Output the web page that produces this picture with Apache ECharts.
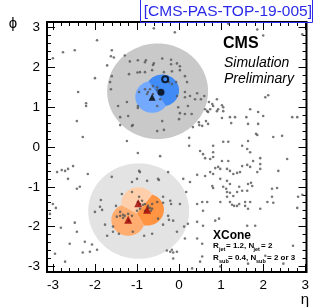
<!DOCTYPE html>
<html><head><meta charset="utf-8">
<script src="https://cdn.jsdelivr.net/npm/echarts@6/dist/echarts.min.js"></script>
<style>html,body{margin:0;padding:0;background:#fff}#c{width:314px;height:308px}</style>
</head><body><div id="c"></div>
<script>
// ---- data ----
const etaMin = -3.14, etaMax = 3.03, phiMin = -3.14, phiMax = 3.14;
const tickValues = [-3, -2, -1, 0, 1, 2, 3];

const fatJetEta = [-0.51, -0.96];
const fatJetPhi = [1.40, -1.61];
const fatJetR = 1.2;
const fatJetColor = ['#c9c9c9', '#e3e3e3'];

const subJetEta = [-0.64, -0.40, -0.97, -0.76, -1.21];
const subJetPhi = [1.26, 1.42, -1.41, -1.575, -1.83];
const subJetGroup = [0, 0, 1, 1, 1];
const subJetR = 0.4;
const subJetColor = ['#73a9ff', '#418bf6', '#ffcfab', '#ff9442', '#ffad70'];

const redTriEta = [-0.97, -0.76, -1.21];
const redTriPhi = [-1.41, -1.575, -1.83];
const blackTriEta = [-0.64], blackTriPhi = [1.25];
const blackDotEta = [-0.43], blackDotPhi = [1.375];
const openCircEta = [-0.33], openCircPhi = [1.70];

const particleEta = [
-1.95,-2.76,-2.48,-3.0,-2.0,-2.40,-0.60,-0.10,1.17,1.86,2.0,2.93,-1.60,-1.62,-1.55,-1.71,-1.29,-1.17,-0.98,-0.79,-0.60,-0.40,-0.19,0.02,-0.99,-0.64,-1.60,-0.81,-0.62,-0.19,-0.05,-0.81,-0.93,-1.19,-1.64,-1.62,-1.24,-1.45,-0.98,-0.98,-1.21,-1.12,-1.40,-0.40,0.0,0.14,0.19,-0.07,-0.17,0.02,0.26,0.38,0.52,0.43,0.14,-0.02,0.02,0.14,0.30,0.62,0.67,0.64,0.47,0.48,0.33,
-0.81,-0.69,-0.62,-0.52,-0.74,-0.76,-0.62,-0.52,-0.95,-0.36,-0.24,-0.05,-0.17,-0.45,-0.52,
-2.21,-2.21,-2.43,-2.29,-1.24,-1.40,-1.10,-0.52,-0.36,0.21,0.24,0.24,0.55,0.69,0.71,0.79,0.81,0.69,0.74,0.90,0.93,1.02,1.21,1.33,1.69,1.88,2.0,1.64,1.88,1.83,1.86,2.24,2.45,2.69,2.81,1.05,1.17,1.50,1.64,1.62,1.69,0.50,0.57,0.81,1.02,1.17,0.62,0.74,-0.45,-0.98,
-2.90,-2.79,-2.71,-2.64,-2.52,-2.64,-2.17,-2.43,-2.36,-1.60,-1.12,-1.0,-0.93,-0.95,-0.76,-0.50,-0.26,0.10,0.26,0.62,0.74,0.81,0.98,1.14,0.93,1.21,1.38,1.29,1.50,1.62,1.69,1.64,1.74,1.45,1.86,1.93,1.76,2.57,2.36,0.98,1.14,1.21,1.05,1.12,1.14,1.21,1.29,1.14,0.79,0.81,1.38,1.50,2.21,2.33,2.93,
0.90,1.05,1.05,2.05,2.12,1.02,1.24,1.60,0.81,0.81,1.93,0.86,1.93,1.43,1.62,1.71,2.21,2.83,
-3.0,-2.93,-3.07,-2.81,-2.60,-2.48,-2.43,-2.24,-2.07,-2.29,-1.95,-2.12,-2.71,-2.95,-2.0,-1.88,-1.76,-1.50,-1.48,-1.40,-1.29,-1.33,-1.57,-1.43,-1.71,-1.10,-0.83,-1.0,-0.93,-0.81,-0.74,-0.64,-0.52,-0.38,-0.21,-0.26,-0.38,-0.14,0.02,-0.05,-0.29,-0.21,-0.17,-0.14,-0.05,-0.14,0.14,0.21,0.43,0.55,0.67,0.31,0.50,0.86,0.98,1.21,1.43,1.57,1.62,1.81,2.10,2.24,2.71,2.81,2.48,1.64,0.98,
0.57,1.26,1.31,1.38,1.57,1.69,1.64,1.93,0.95,0.57,0.55,2.05,0.55,
-0.48,0.43,-1.86,-1.83,-1.36,-1.12,-0.95,-0.88,-0.98,-0.93,-0.86,-0.81,-0.74,-0.69,-0.64,-0.67,-0.38,-0.19,0.17,-1.40,-1.33,-1.21,-1.12,-1.19,-0.24,-0.50,-1.57,-0.64,0.12,0.43,0.43,
0.60,0.14
];
const particlePhi = [
2.68,2.38,2.43,2.23,1.73,1.38,2.98,2.88,3.1,2.95,2.8,2.83,2.43,2.28,2.25,2.05,2.3,2.15,2.18,2.18,2.1,2.22,2.19,2.03,1.87,1.93,1.78,2.13,2.06,2.08,2.1,1.88,1.88,1.83,1.63,1.45,1.13,1.03,1.03,0.98,0.78,0.53,0.75,0.65,0.7,1.78,1.63,1.63,1.9,1.93,1.28,1.2,1.2,1.35,1.25,1.0,0.85,0.83,0.83,0.95,0.9,0.65,0.62,0.55,0.5,
1.45,1.45,1.53,1.5,1.38,1.33,1.33,1.43,1.38,1.88,1.63,1.28,1.58,1.2,1.03,
1.1,1.03,0.65,0.25,0.15,0.55,0.55,0.4,0.43,1.03,0.23,0.03,0.53,0.58,1.13,1.08,1.03,0.88,0.95,0.9,0.95,1.05,0.75,0.75,0.95,0.88,0.78,0.58,0.58,0.33,0.3,0.25,0.28,0.75,0.75,0.13,0.13,0.03,0.15,-0.05,-0.13,-0.1,-0.18,-0.25,-0.35,-0.35,-0.28,-0.3,-0.23,-0.15,
-0.63,-0.58,-0.6,-0.55,-0.48,-0.8,-0.68,-1.05,-1.0,-0.75,-0.88,-0.8,-0.63,-0.6,-0.85,-0.8,-0.63,-0.8,-0.88,-0.73,-0.63,-0.68,-0.55,-0.55,-0.5,-0.6,-0.65,-0.68,-0.48,-0.45,-0.5,-0.93,-0.98,-0.63,-0.63,-0.43,-0.35,-0.3,-0.6,-0.8,-0.85,-0.93,-1.0,-1.05,-1.13,-1.15,-1.23,-1.25,-0.98,-1.03,-1.13,-1.1,-1.05,-1.03,-1.2,
1.2,1.0,0.9,1.25,1.3,0.73,0.6,0.75,0.03,-0.13,-0.28,-0.53,-0.55,-1.0,-1.1,-0.9,-1.25,-1.25,
-1.43,-1.53,-1.68,-2.03,-2.43,-1.9,-2.13,-2.38,-2.45,-2.65,-2.58,-2.63,-2.88,-2.68,-1.63,-1.5,-1.95,-1.48,-1.75,-1.73,-1.73,-1.78,-2.0,-2.18,-2.23,-2.13,-2.23,-1.6,-1.55,-1.6,-1.53,-1.43,-1.38,-1.4,-1.35,-1.73,-1.95,-1.85,-1.43,-2.13,-2.6,-2.63,-2.58,-2.65,-2.63,-2.8,-2.3,-1.93,-1.43,-1.38,-1.38,-3.05,-2.88,-1.85,-1.38,-1.38,-1.43,-1.38,-1.98,-1.98,-1.38,-1.4,-2.48,-1.53,-2.93,-2.93,-3.0,
-1.6,-1.45,-1.48,-1.48,-1.48,-1.38,-1.55,-1.55,-1.8,-1.98,-2.43,-2.73,-2.75,
-0.83,-0.7,-1.33,-1.58,-1.18,-1.13,-1.25,-1.35,-1.38,-1.43,-1.45,-1.43,-1.48,-1.53,-1.55,-1.6,-1.25,-1.43,-1.13,-1.63,-1.7,-1.68,-1.73,-1.85,-1.83,-1.8,-2.13,-2.18,-2.0,-1.88,-2.3,
1.28,1.38
];

// ---- geometry helpers (data space) ----
function clipHalf(poly, c, o) {
  const mx = (c[0] + o[0]) / 2, my = (c[1] + o[1]) / 2, dx = o[0] - c[0], dy = o[1] - c[1];
  const f = p => (p[0] - mx) * dx + (p[1] - my) * dy;
  const out = [];
  for (let i = 0; i < poly.length; i++) {
    const a = poly[i], b = poly[(i + 1) % poly.length], fa = f(a), fb = f(b);
    if (fa <= 0) out.push(a);
    if ((fa <= 0) !== (fb <= 0)) { const t = fa / (fa - fb); out.push([a[0] + t * (b[0] - a[0]), a[1] + t * (b[1] - a[1])]); }
  }
  return out;
}
function region(cx, cy, r, others) {
  let pts = [];
  for (let i = 0; i < 120; i++) { const a = 2 * Math.PI * i / 120; pts.push([cx + r * Math.cos(a), cy + r * Math.sin(a)]); }
  others.forEach(o => { pts = clipHalf(pts, [cx, cy], o); });
  return pts;
}

const fatData = fatJetEta.map((e, i) => [e, fatJetPhi[i], i]);
const subData = subJetEta.map((e, i) => [e, subJetPhi[i], i]);

function renderFat(params, api) {
  const i = api.value(2);
  const others = fatJetEta.map((e, j) => [e, fatJetPhi[j]]).filter((_, j) => j !== i);
  const pts = region(api.value(0), api.value(1), fatJetR, others).map(p => api.coord(p));
  return { type: 'polygon', shape: { points: pts }, style: { fill: fatJetColor[i] } };
}
function renderSub(params, api) {
  const i = api.value(2);
  const others = [];
  subJetEta.forEach((e, j) => { if (j !== i && subJetGroup[j] === subJetGroup[i]) others.push([e, subJetPhi[j]]); });
  const pts = region(api.value(0), api.value(1), subJetR, others).map(p => api.coord(p));
  return { type: 'polygon', shape: { points: pts }, style: { fill: subJetColor[i] } };
}

const minorVals = [];
for (let k = -16; k <= 16; k++) { const v = Math.round(k * 2) / 10; if (Math.abs(v - Math.round(v)) > 1e-6) minorVals.push(v); }

const FONT = 'Liberation Sans, Arial, Helvetica, sans-serif';
function axis(dim, pos, vals, len, labels) {
  const isX = dim === 'x';
  return {
    type: 'value', position: pos,
    min: isX ? etaMin : phiMin, max: isX ? etaMax : phiMax,
    axisLine: { show: false, onZero: false },
    splitLine: { show: false },
    axisTick: { show: true, inside: true, length: len, customValues: vals, lineStyle: { color: '#000', width: 1 } },
    axisLabel: labels ? { show: true, customValues: tickValues, color: '#000', fontSize: 13.5, fontFamily: FONT, margin: isX ? 6 : 7 } : { show: false }
  };
}

function txt(x, y, s, font, align) {
  return { type: 'text', x: x, y: y, z: 10, style: { text: s, fill: '#000', font: font, align: align || 'left', verticalAlign: 'middle' } };
}
const MAIN = 'bold 8px ' + FONT, SUB = 'bold 5.5px ' + FONT;

const chart = echarts.init(document.getElementById('c'), null, { renderer: 'canvas' });
chart.setOption({
  animation: false,
  grid: { left: 47, right: 7.5, top: 22, bottom: 36, show: true, borderColor: '#000', borderWidth: 2, backgroundColor: 'transparent' },
  xAxis: [axis('x', 'bottom', tickValues, 8, true), axis('x', 'bottom', minorVals, 4, false), axis('x', 'top', tickValues, 8, false), axis('x', 'top', minorVals, 4, false)],
  yAxis: [axis('y', 'left', tickValues, 8, true), axis('y', 'left', minorVals, 4, false), axis('y', 'right', tickValues, 8, false), axis('y', 'right', minorVals, 4, false)],
  series: [
    { type: 'custom', renderItem: renderFat, data: fatData, clip: true, z: 1, silent: true },
    { type: 'custom', renderItem: renderSub, data: subData, clip: true, z: 2, silent: true },
    { type: 'scatter', data: particleEta.map((e, i) => [e, particlePhi[i]]), symbol: 'circle', symbolSize: 2.6, itemStyle: { color: '#555' }, z: 3, silent: true },
    { type: 'scatter', data: redTriEta.map((e, i) => [e, redTriPhi[i]]), symbol: 'triangle', symbolSize: 8, itemStyle: { color: '#9b0000' }, z: 4, silent: true },
    { type: 'scatter', data: blackTriEta.map((e, i) => [e, blackTriPhi[i]]), symbol: 'triangle', symbolSize: 7, itemStyle: { color: '#000' }, z: 4, silent: true },
    { type: 'scatter', data: blackDotEta.map((e, i) => [e, blackDotPhi[i]]), symbol: 'circle', symbolSize: 7, itemStyle: { color: '#000' }, z: 4, silent: true },
    { type: 'scatter', data: openCircEta.map((e, i) => [e, openCircPhi[i]]), symbol: 'circle', symbolSize: 6, itemStyle: { color: 'rgba(0,0,0,0)', borderColor: '#000', borderWidth: 2 }, z: 4, silent: true }
  ],
  graphic: [
    { type: 'rect', shape: { x: 140.5, y: -1, width: 172, height: 23.5 }, style: { fill: 'none', stroke: '#2a2ae8', lineWidth: 1 }, z: 10 },
    { type: 'text', x: 312, y: 12, z: 10, style: { text: '[CMS-PAS-TOP-19-005]', fill: '#2a2ae8', font: '15.5px ' + FONT, align: 'right', verticalAlign: 'middle' } },
    txt(13, 24, 'ϕ', '15px ' + FONT, 'center'),
    txt(305, 300, 'η', '15px ' + FONT, 'center'),
    txt(223, 44, 'CMS', 'bold 16px ' + FONT),
    txt(224, 63, 'Simulation', 'italic 14px ' + FONT),
    txt(224, 79, 'Preliminary', 'italic 14px ' + FONT),
    txt(213, 236, 'XCone', 'bold 12px ' + FONT),
    txt(213, 246, 'R', MAIN),
    txt(219, 249, 'jet', SUB),
    txt(226, 246, '= 1.2, N', MAIN),
    txt(253.5, 249, 'jet', SUB),
    txt(261, 246, '= 2', MAIN),
    txt(213, 258, 'R', MAIN),
    txt(219, 261, 'sub', SUB),
    txt(228, 258, '= 0.4, N', MAIN),
    txt(256, 261.5, 'sub', SUB),
    txt(267, 258, '= 2 or 3', MAIN)
  ]
});
</script>
</body></html>
